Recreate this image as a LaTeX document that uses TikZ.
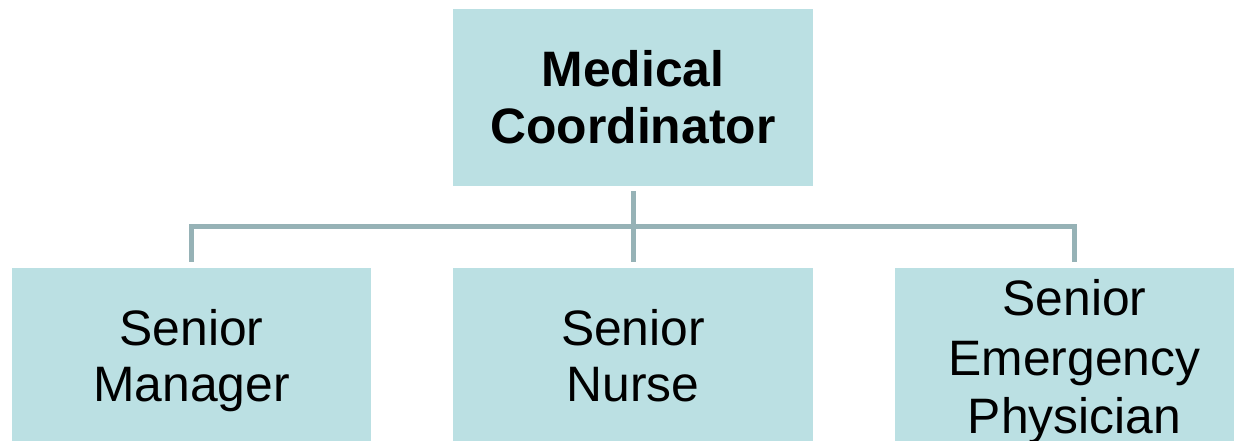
\documentclass[tikz,border=0pt]{standalone}
\usepackage{fontspec}
\setmainfont{Liberation Sans}
\definecolor{boxfill}{RGB}{187,224,227}
\definecolor{linecol}{RGB}{150,178,182}
\begin{document}
\begin{tikzpicture}[x=1pt,y=-1pt,
  orgbox/.style={rectangle,fill=boxfill,draw=none,inner sep=0pt,minimum width=359.4pt,minimum height=176.7pt},
  lbl/.style={anchor=base,inner sep=0pt,font=\fontsize{49.8}{56}\selectfont},
  lblb/.style={lbl,font=\fontsize{49.8}{56}\selectfont\bfseries},
  conn/.style={draw=linecol,line width=5pt}]
\useasboundingbox (0,0) rectangle (1234,440);
\clip (0,0) rectangle (1234,440);
% boxes
\node[orgbox] (mc)  at (633,97.3) {};
\node[orgbox] (sm)  at (191.5,356) {};
\node[orgbox] (sn)  at (633,356) {};
\node[orgbox] (sep) at (1074.5,356) {};
% labels
\node[lblb] (mc1) at (633,86.7) {Medical};
\node[lblb] (mc2) at (633,143.3) {Coordinator};
\node[lbl] (sm1) at (191.5,345.5) {Senior};
\node[lbl] (sm2) at (191.5,401.7) {Manager};
\node[lbl] (sn1) at (633,345.5) {Senior};
\node[lbl] (sn2) at (633,401.7) {Nurse};
\node[lbl] (se1) at (1074.5,315.7) {Senior};
\node[lbl] (se2) at (1074.5,375) {Emergency};
\node[lbl] (se3) at (1074.5,433.5) {Physician};
% connectors
\coordinate (bar) at (633,226.8);
\draw[conn] ([yshift=-5.3pt]mc.south) -- ([yshift=5.65pt]sn.north);
\draw[conn] ([yshift=5.65pt]sm.north) |- (bar) -| ([yshift=5.65pt]sep.north);
\end{tikzpicture}
\end{document}
